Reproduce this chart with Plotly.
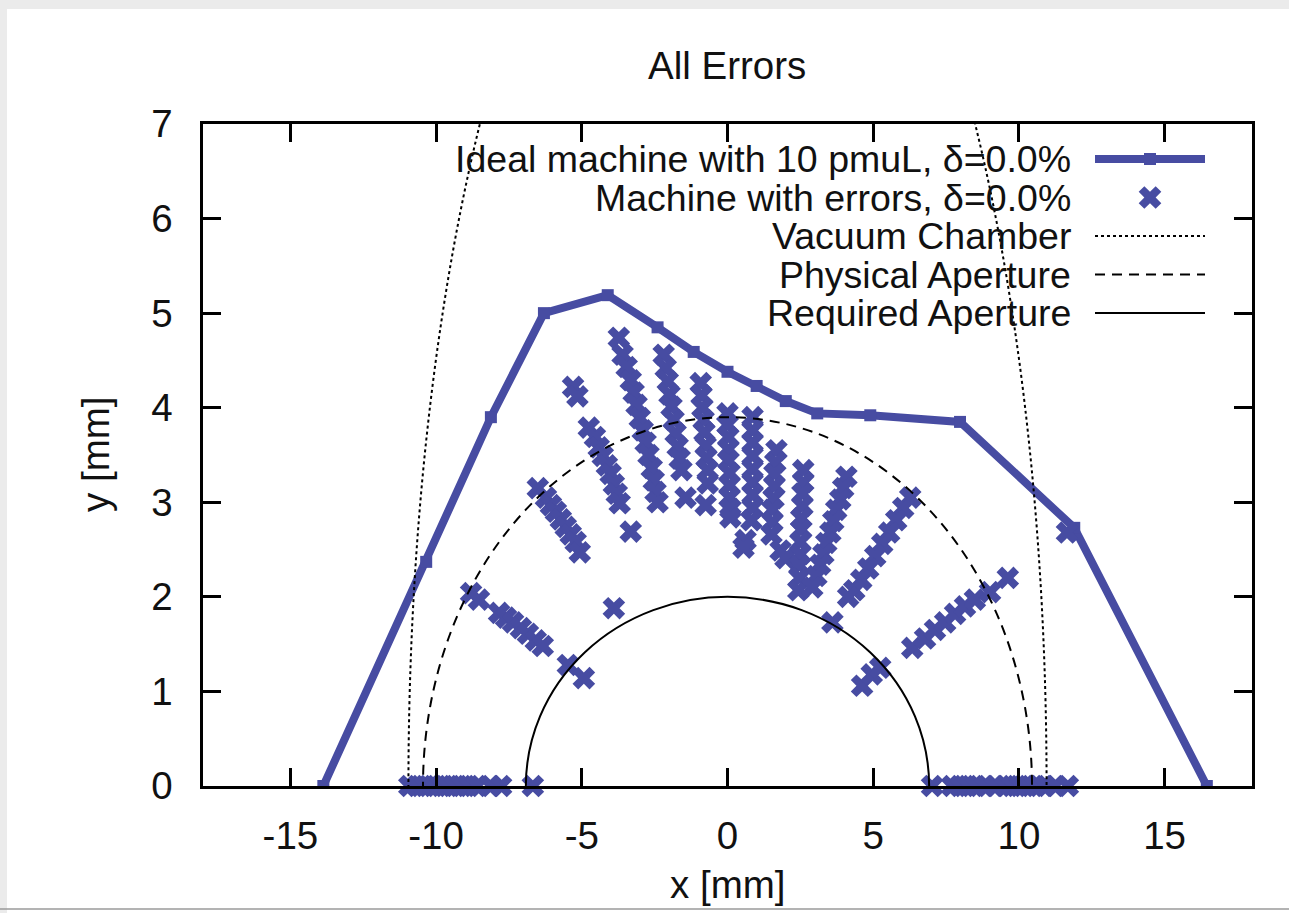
import plotly.graph_objects as go

# ---------------- data (mm) ----------------
ideal_x = [-13.87, -10.34, -8.12, -6.30, -4.11, -2.40, -1.16, 0.00, 1.00, 2.00, 3.08, 4.90, 7.98, 11.90, 16.45]
ideal_y = [0.00, 2.37, 3.90, 5.00, 5.19, 4.85, 4.59, 4.38, 4.23, 4.07, 3.94, 3.92, 3.85, 2.73, 0.00]

err_x = [
    # y = 0 (left)
    -10.92, -10.65, -10.38, -10.10, -9.83, -9.59, -9.35, -9.11, -8.87, -8.60, -8.12, -7.77, -6.68,
    # y = 0 (right)
    7.02, 7.71, 7.98, 8.25, 8.53, 8.84, 9.18, 9.52, 9.76, 10.03, 10.31, 10.58, 10.89, 11.23, 11.68,
    # streak near x=-8..-5, y~1-2
    -8.80, -8.53, -7.84, -7.60, -7.36, -7.09, -6.85, -6.58, -6.34, -5.48, -4.93,
    # streak x=-6.5..-5, y~2.5-3.1
    -6.51, -6.23, -6.06, -5.89, -5.72, -5.55, -5.38, -5.21, -5.07,
    # isolated
    -3.90, -5.30, -5.15,
    # streak x~-4.7..-3.7
    -4.76, -4.55, -4.42, -4.28, -4.14, -4.01, -3.90, -3.80, -3.70, -3.32,
    # streak x~-3.7..-2.4
    -3.73, -3.60, -3.46, -3.32, -3.22, -3.12, -3.01, -2.91, -2.81, -2.71, -2.60, -2.53, -2.47, -2.40,
    # streak x~-2.2..-1.5
    -2.19, -2.12, -2.05, -1.99, -1.92, -1.85, -1.78, -1.71, -1.64, -1.58, -1.44,
    # streak x~-0.9
    -0.92, -0.89, -0.86, -0.82, -0.79, -0.75, -0.72, -0.68, -0.68, -0.75,
    # streak x~0
    0.00, 0.00, 0.03, 0.03, 0.03, 0.07, 0.07, 0.07, 0.10, 0.10,
    # streak x~0.9
    0.86, 0.86, 0.86, 0.86, 0.86, 0.86, 0.86, 0.86, 0.82, 0.62, 0.55,
    # streak x~1.6
    1.68, 1.64, 1.61, 1.61, 1.58, 1.54, 1.54, 1.51, 1.82, 1.99,
    # streak x~2.5
    2.60, 2.60, 2.57, 2.57, 2.53, 2.53, 2.50, 2.50, 2.47, 2.47, 2.43,
    # streak x~3-4
    4.08, 3.97, 3.87, 3.73, 3.63, 3.53, 3.39, 3.29, 3.18, 3.05, 2.91,
    # streak x~4-6.3
    6.27, 6.03, 5.79, 5.55, 5.31, 5.07, 4.83, 4.59, 4.35, 4.14,
    # isolated
    3.60,
    # right lower streak
    4.62, 4.95, 5.24, 6.34, 6.78, 7.12, 7.47, 7.81, 8.15, 8.49, 9.01, 9.62,
    # near ideal
    11.65,
]
err_y = [
    0, 0, 0, 0, 0, 0, 0, 0, 0, 0, 0, 0, 0,
    0, 0, 0, 0, 0, 0, 0, 0, 0, 0, 0, 0, 0, 0, 0,
    2.04, 1.97, 1.83, 1.78, 1.73, 1.67, 1.61, 1.54, 1.48, 1.28, 1.14,
    3.15, 3.05, 2.97, 2.90, 2.82, 2.74, 2.66, 2.58, 2.47,
    1.88, 4.22, 4.12,
    3.79, 3.69, 3.58, 3.49, 3.39, 3.30, 3.19, 3.09, 2.99, 2.69,
    4.74, 4.56, 4.43, 4.29, 4.16, 4.03, 3.89, 3.76, 3.63, 3.50, 3.36, 3.23, 3.11, 3.00,
    4.56, 4.42, 4.28, 4.14, 4.01, 3.87, 3.73, 3.59, 3.46, 3.34, 3.05,
    4.26, 4.13, 4.00, 3.87, 3.74, 3.60, 3.47, 3.34, 3.20, 2.97,
    3.94, 3.82, 3.69, 3.56, 3.44, 3.31, 3.18, 3.05, 2.93, 2.84,
    3.90, 3.76, 3.63, 3.49, 3.35, 3.21, 3.08, 2.94, 2.81, 2.60, 2.52,
    3.55, 3.42, 3.30, 3.17, 3.04, 2.92, 2.79, 2.66, 2.49, 2.41,
    3.34, 3.21, 3.09, 2.96, 2.83, 2.71, 2.58, 2.45, 2.33, 2.20, 2.07,
    3.27, 3.15, 3.03, 2.92, 2.80, 2.68, 2.57, 2.45, 2.34, 2.22, 2.10,
    3.05, 2.94, 2.81, 2.68, 2.56, 2.43, 2.30, 2.18, 2.07, 2.00,
    1.73,
    1.06, 1.18, 1.25, 1.46, 1.56, 1.65, 1.73, 1.82, 1.90, 1.97, 2.05, 2.20,
    2.68,
]

# aperture ellipses: semi-axes [a_x, b_y] in mm
vacuum_ab = [10.95, 11.1]
physical_ab = [10.45, 3.9]
required_ab = [6.92, 2.0]

x_ticks = [-15, -10, -5, 0, 5, 10, 15]
x_ticktext = ["-15", "-10", "-5", "0", "5", "10", "15"]
y_ticks = [0, 1, 2, 3, 4, 5, 6, 7]
x_range = [-18, 18]
y_range = [0, 7]

legend_labels = [
    "Ideal machine with 10 pmuL, δ=0.0%",
    "Machine with errors, δ=0.0%",
    "Vacuum Chamber",
    "Physical Aperture",
    "Required Aperture",
]

# ---------------- layout helpers (pixels -> paper) ----------------
W, H = 1289, 913
L, R, T, B = 203, 1252, 124, 786
def px(xp):
    return (xp - L) / (R - L)
def py(yp):
    return (B - yp) / (B - T)

BLUE = "#474ca2"
FONT = "Liberation Sans, Arial, Helvetica, sans-serif"
FS = 38.5
FS_LEG = 37.5
MSIZE = 20

fig = go.Figure()
fig.add_trace(go.Scatter(
    x=ideal_x, y=ideal_y, mode="lines+markers",
    line=dict(color=BLUE, width=8),
    marker=dict(symbol="square", size=12, color=BLUE),
    name=legend_labels[0], showlegend=False,
))
fig.add_trace(go.Scatter(
    x=err_x, y=err_y, mode="markers",
    marker=dict(symbol="x", size=MSIZE, color=BLUE, line=dict(width=0)),
    name=legend_labels[1], showlegend=False, cliponaxis=False,
))

shapes = []
# window frame decoration
shapes.append(dict(type="rect", xref="paper", yref="paper", x0=px(0), x1=px(W), y0=py(0), y1=py(9),
                   fillcolor="#ebebeb", line=dict(width=0), layer="below"))
shapes.append(dict(type="rect", xref="paper", yref="paper", x0=px(0), x1=px(7), y0=py(0), y1=py(H),
                   fillcolor="#ebebeb", line=dict(width=0), layer="below"))
shapes.append(dict(type="line", xref="paper", yref="paper", x0=px(0), x1=px(W), y0=py(909), y1=py(909),
                   line=dict(color="#9a9a9a", width=1.5), layer="below"))

for ab, dash in [(vacuum_ab, "dot"), (physical_ab, "10px,7px"), (required_ab, "solid")]:
    shapes.append(dict(type="circle", xref="x", yref="y",
                       x0=-ab[0], x1=ab[0], y0=-ab[1], y1=ab[1],
                       line=dict(color="black", width=2, dash=dash), layer="above"))

# legend (right-aligned labels, samples on the right)
rows = [159, 197.5, 236, 274.5, 313]
text_right = 1073
samp0, samp1, samp_mid = 1095, 1205, 1150
annotations = []
for lab, r in zip(legend_labels, rows):
    annotations.append(dict(text=lab, x=px(text_right), y=py(r), xref="paper", yref="paper",
                            xanchor="right", yanchor="middle", showarrow=False,
                            font=dict(family=FONT, size=FS_LEG, color="#111")))
shapes.append(dict(type="line", xref="paper", yref="paper", x0=px(samp0), x1=px(samp1),
                   y0=py(rows[0]), y1=py(rows[0]), line=dict(color=BLUE, width=8)))
shapes.append(dict(type="rect", xref="paper", yref="paper", xsizemode="pixel", ysizemode="pixel",
                   xanchor=px(samp_mid), yanchor=py(rows[0]), x0=-6, x1=6, y0=-6, y1=6,
                   fillcolor=BLUE, line=dict(width=0)))
rx = 0.8 * (MSIZE / 2) / 2 ** 0.5
pts = [(0, rx), (rx, 2 * rx), (2 * rx, rx), (rx, 0), (2 * rx, -rx), (rx, -2 * rx), (0, -rx),
       (-rx, -2 * rx), (-2 * rx, -rx), (-rx, 0), (-2 * rx, rx), (-rx, 2 * rx)]
path = "M" + " L".join(f"{a:.2f},{b:.2f}" for a, b in pts) + " Z"
shapes.append(dict(type="path", xref="paper", yref="paper", xsizemode="pixel", ysizemode="pixel",
                   xanchor=px(samp_mid), yanchor=py(rows[1]), path=path,
                   fillcolor=BLUE, line=dict(width=0)))
for r, dash in zip(rows[2:], ["dot", "10px,7px", "solid"]):
    shapes.append(dict(type="line", xref="paper", yref="paper", x0=px(samp0), x1=px(samp1),
                       y0=py(r), y1=py(r), line=dict(color="black", width=2, dash=dash)))

# title and axis titles
annotations.append(dict(text="All Errors", x=px(727), y=py(66), xref="paper", yref="paper",
                        xanchor="center", yanchor="middle", showarrow=False,
                        font=dict(family=FONT, size=FS, color="#111")))
annotations.append(dict(text="x [mm]", x=px(727), y=py(884), xref="paper", yref="paper",
                        xanchor="center", yanchor="middle", showarrow=False,
                        font=dict(family=FONT, size=FS, color="#111")))
annotations.append(dict(text="y [mm]", x=px(95), y=py(455), xref="paper", yref="paper",
                        xanchor="center", yanchor="middle", showarrow=False, textangle=-90,
                        font=dict(family=FONT, size=FS, color="#111")))

axis_common = dict(showgrid=False, zeroline=False, showline=True, linecolor="black", linewidth=2.5,
                   mirror="ticks", ticks="inside", ticklen=18, tickwidth=2.5, tickcolor="black",
                   tickfont=dict(family=FONT, size=FS, color="#111"))

fig.update_layout(
    width=W, height=H,
    margin=dict(l=L, r=W - R, t=T, b=H - B),
    paper_bgcolor="white", plot_bgcolor="white",
    xaxis=dict(range=x_range, tickvals=x_ticks, ticktext=x_ticktext, ticklabelstandoff=14, **axis_common),
    yaxis=dict(range=y_range, tickvals=y_ticks, ticklabelstandoff=20, **axis_common),
    shapes=shapes, annotations=annotations, showlegend=False,
)

fig.write_html("out.html")
